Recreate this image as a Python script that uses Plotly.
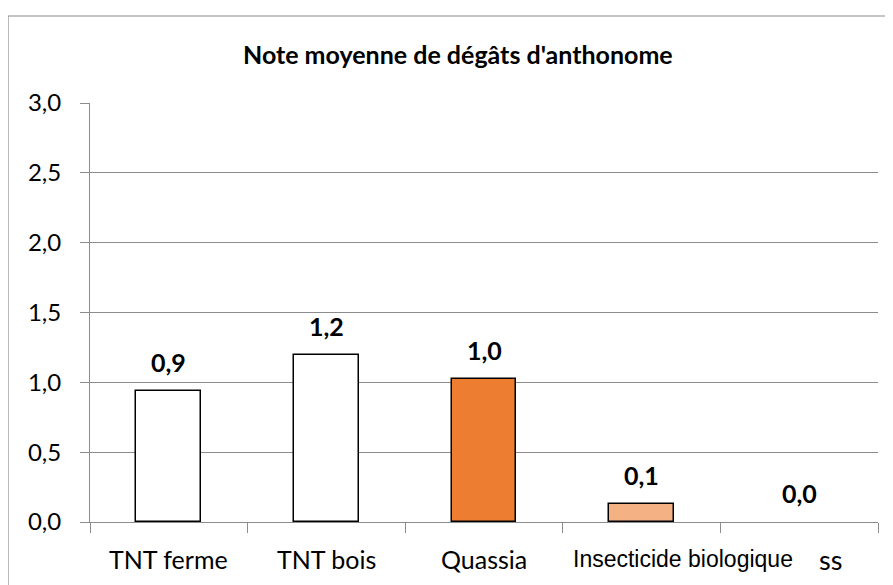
import plotly.graph_objects as go

categories = ["TNT ferme", "TNT bois", "Quassia", "Insecticide biologique", "ss"]
values = [0.935, 1.197, 1.027, 0.131, 0.0]
value_labels = ["0,9", "1,2", "1,0", "0,1", "0,0"]
bar_colors = ["#FFFFFF", "#FFFFFF", "#ED7D31", "#F4B183", "#FFFFFF"]
y_ticks = [0, 0.5, 1.0, 1.5, 2.0, 2.5, 3.0]

label_fonts = ["Lato", "Lato", "Lato", "Liberation Sans", "Lato"]
label_sizes = [25, 25, 25, 23, 27]
label_xshift = [0, 0, 0, 41, 31]
bar_line_widths = [1.5, 1.5, 1.5, 1.5, 0]

# page body has an 8px offset, so the figure is drawn 8px smaller
OFF = 8
W, H = 893 - OFF, 585 - OFF
L, R, T, B = 90 - OFF, 15, 103 - OFF, 63
pw, ph = W - L - R, H - T - B

xpos = list(range(len(categories)))

fig = go.Figure()
fig.add_trace(go.Bar(
    x=xpos, y=values, width=0.41,
    marker=dict(color=bar_colors, line=dict(color="#000000", width=bar_line_widths)),
    hoverinfo="skip", showlegend=False,
))

annotations = []
for i, (v, t) in enumerate(zip(values, value_labels)):
    annotations.append(dict(x=i, y=v, xref="x", yref="y", text="<b>" + t + "</b>",
                            showarrow=False, yanchor="bottom", yshift=12,
                            font=dict(family="Lato", size=25, color="#000000")))
for i, c in enumerate(categories):
    annotations.append(dict(x=i, y=0, xref="x", yref="paper", text=c,
                            showarrow=False, yanchor="middle", yshift=-37,
                            xshift=label_xshift[i],
                            font=dict(family=label_fonts[i], size=label_sizes[i], color="#000000")))
annotations.append(dict(x=(458 - 90) / pw, y=(522 - 54) / ph, xref="paper", yref="paper",
                        text="<b>Note moyenne de dégâts d'anthonome</b>", showarrow=False,
                        xanchor="center", yanchor="middle",
                        font=dict(family="Lato", size=25, color="#000000")))

fig.update_layout(
    width=W, height=H,
    margin=dict(l=L, r=R, t=T, b=B),
    paper_bgcolor="#FFFFFF", plot_bgcolor="#FFFFFF",
    separators=",.",
    bargap=0,
    annotations=annotations,
    shapes=[dict(type="rect", xref="paper", yref="paper",
                 x0=(8 - 90) / pw, x1=(893 + 20 - 90) / pw,
                 y0=-(B + 30) / ph, y1=(522 - 16) / ph,
                 line=dict(color="#8C8C8C", width=1.2), fillcolor="rgba(0,0,0,0)", layer="below")],
    xaxis=dict(range=[-0.5, 4.5], tickvals=[-0.5, 0.5, 1.5, 2.5, 3.5, 4.5],
               ticktext=[""] * 6, ticks="outside", ticklen=10, tickcolor="#8C8C8C",
               showline=True, linecolor="#8C8C8C", linewidth=1, showgrid=False, zeroline=False,
               fixedrange=True),
    yaxis=dict(range=[0, 3.0], tickvals=y_ticks, tickformat=".1f", ticks="outside", ticklen=9,
               tickcolor="#8C8C8C", showline=True, linecolor="#8C8C8C", linewidth=1,
               showgrid=True, gridcolor="#8C8C8C", gridwidth=1, zeroline=False,
               ticklabelstandoff=14,
               tickfont=dict(family="Lato", size=24, color="#000000")),
)
fig.write_html("out.html")
